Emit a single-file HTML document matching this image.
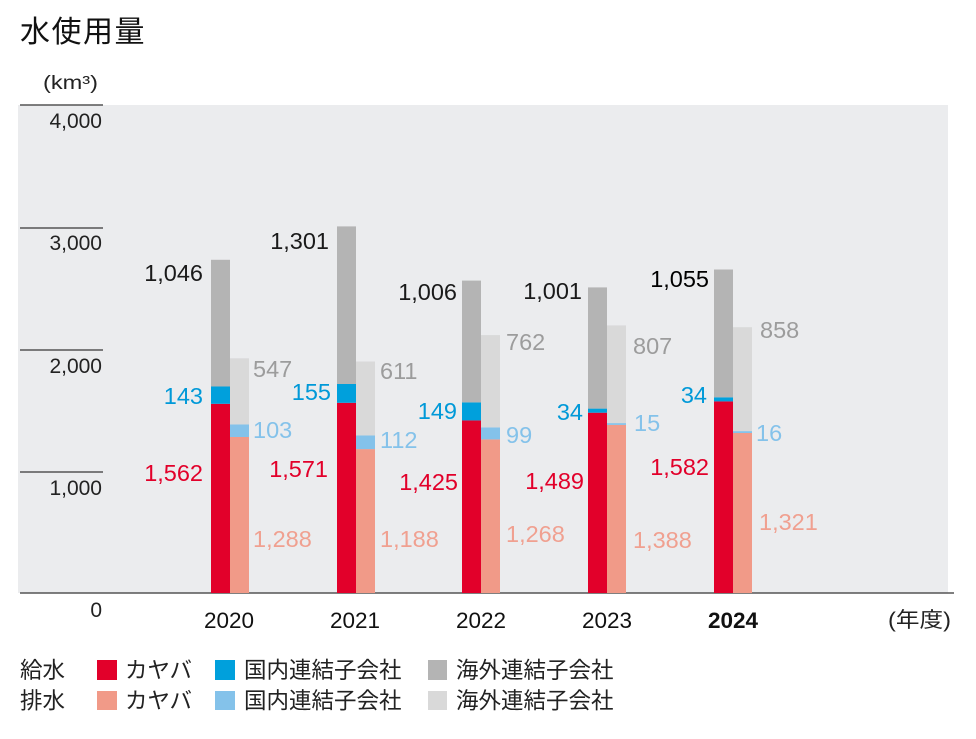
<!DOCTYPE html>
<html><head><meta charset="utf-8">
<style>
html,body{margin:0;padding:0;background:#fff;}
svg{display:block;}
text{font-family:"Liberation Sans","Noto Sans CJK JP",sans-serif;}
.v{font-size:23.5px;}
.ax{font-size:21px;fill:#222;}
.yr{font-size:22.5px;fill:#111;text-anchor:middle;}
.lg{font-size:22.5px;fill:#222;}
</style></head>
<body>
<svg width="976" height="739" viewBox="0 0 976 739" xmlns="http://www.w3.org/2000/svg">
<rect x="0" y="0" width="976" height="739" fill="#fff"/>
<!-- title -->
<text x="20" y="42" style="font-size:30px;letter-spacing:1.5px" fill="#111">水使用量</text>
<text x="43" y="89" style="font-size:19.5px" fill="#222" textLength="55" lengthAdjust="spacingAndGlyphs">(km³)</text>
<!-- plot bg -->
<rect x="18" y="105" width="930" height="488" fill="#ebecee"/>
<!-- ticks -->
<g stroke="#555" stroke-width="1.5">
<line x1="20" y1="105" x2="103" y2="105"/>
<line x1="20" y1="228" x2="103" y2="228"/>
<line x1="20" y1="350" x2="103" y2="350"/>
<line x1="20" y1="472" x2="103" y2="472"/>
<line x1="20" y1="593" x2="954" y2="593"/>
</g>
<g class="ax" text-anchor="end">
<text x="102" y="128">4,000</text>
<text x="102" y="250">3,000</text>
<text x="102" y="373">2,000</text>
<text x="102" y="495">1,000</text>
<text x="102" y="617">0</text>
</g>
<!-- bars -->
<g>
<!-- 2020 -->
<rect x="211" y="403.8" width="19" height="189.2" fill="#e2002a"/>
<rect x="211" y="386.5" width="19" height="17.3" fill="#00a0dc"/>
<rect x="211" y="259.8" width="19" height="126.7" fill="#b4b4b4"/>
<rect x="230" y="437" width="19" height="156" fill="#f19a88"/>
<rect x="230" y="424.5" width="19" height="12.5" fill="#84c2ea"/>
<rect x="230" y="358.3" width="19" height="66.2" fill="#d9d9d9"/>
<!-- 2021 -->
<rect x="337" y="402.8" width="19" height="190.2" fill="#e2002a"/>
<rect x="337" y="384" width="19" height="18.8" fill="#00a0dc"/>
<rect x="337" y="226.4" width="19" height="157.6" fill="#b4b4b4"/>
<rect x="356" y="449.1" width="19" height="143.9" fill="#f19a88"/>
<rect x="356" y="435.5" width="19" height="13.6" fill="#84c2ea"/>
<rect x="356" y="361.5" width="19" height="74" fill="#d9d9d9"/>
<!-- 2022 -->
<rect x="462" y="420.4" width="19" height="172.6" fill="#e2002a"/>
<rect x="462" y="402.4" width="19" height="18" fill="#00a0dc"/>
<rect x="462" y="280.6" width="19" height="121.8" fill="#b4b4b4"/>
<rect x="481" y="439.4" width="19" height="153.6" fill="#f19a88"/>
<rect x="481" y="427.4" width="19" height="12" fill="#84c2ea"/>
<rect x="481" y="335.1" width="19" height="92.3" fill="#d9d9d9"/>
<!-- 2023 -->
<rect x="588" y="412.7" width="19" height="180.3" fill="#e2002a"/>
<rect x="588" y="408.6" width="19" height="4.1" fill="#00a0dc"/>
<rect x="588" y="287.4" width="19" height="121.2" fill="#b4b4b4"/>
<rect x="607" y="424.9" width="19" height="168.1" fill="#f19a88"/>
<rect x="607" y="423.1" width="19" height="1.8" fill="#84c2ea"/>
<rect x="607" y="325.4" width="19" height="97.7" fill="#d9d9d9"/>
<!-- 2024 -->
<rect x="714" y="401.4" width="19" height="191.6" fill="#e2002a"/>
<rect x="714" y="397.3" width="19" height="4.1" fill="#00a0dc"/>
<rect x="714" y="269.5" width="19" height="127.8" fill="#b4b4b4"/>
<rect x="733" y="433" width="19" height="160" fill="#f19a88"/>
<rect x="733" y="431.1" width="19" height="1.9" fill="#84c2ea"/>
<rect x="733" y="327.2" width="19" height="103.9" fill="#d9d9d9"/>
</g>
<!-- supply labels (right aligned) -->
<g class="v" text-anchor="end">
<text x="203" y="281" fill="#1a1a1a">1,046</text>
<text x="203" y="404" fill="#0099d8">143</text>
<text x="203" y="481" fill="#e2002a">1,562</text>

<text x="329" y="249" fill="#1a1a1a">1,301</text>
<text x="331" y="400" fill="#0099d8">155</text>
<text x="328" y="477" fill="#e2002a">1,571</text>

<text x="457" y="300" fill="#1a1a1a">1,006</text>
<text x="457" y="419" fill="#0099d8">149</text>
<text x="458" y="490" fill="#e2002a">1,425</text>

<text x="582" y="299" fill="#1a1a1a">1,001</text>
<text x="583" y="420" fill="#0099d8">34</text>
<text x="584" y="489" fill="#e2002a">1,489</text>

<text x="709" y="287" fill="#000">1,055</text>
<text x="707" y="403" fill="#0099d8">34</text>
<text x="709" y="475" fill="#e2002a">1,582</text>
</g>
<!-- discharge labels (left aligned) -->
<g class="v" text-anchor="start">
<text x="253" y="377" fill="#9c9c9c">547</text>
<text x="253" y="438" fill="#84c2ea">103</text>
<text x="253" y="547" fill="#f0a090">1,288</text>

<text x="380" y="379" fill="#9c9c9c">611</text>
<text x="380" y="448" fill="#84c2ea">112</text>
<text x="380" y="547" fill="#f0a090">1,188</text>

<text x="506" y="350" fill="#9c9c9c">762</text>
<text x="506" y="443" fill="#84c2ea">99</text>
<text x="506" y="542" fill="#f0a090">1,268</text>

<text x="633" y="354" fill="#9c9c9c">807</text>
<text x="634" y="431" fill="#84c2ea">15</text>
<text x="633" y="548" fill="#f0a090">1,388</text>

<text x="760" y="338" fill="#9c9c9c">858</text>
<text x="756" y="441" fill="#84c2ea">16</text>
<text x="759" y="530" fill="#f0a090">1,321</text>
</g>
<!-- year labels -->
<text class="yr" x="229" y="628">2020</text>
<text class="yr" x="355" y="628">2021</text>
<text class="yr" x="481" y="628">2022</text>
<text class="yr" x="607" y="628">2023</text>
<text class="yr" x="733" y="628" font-weight="bold">2024</text>
<text x="888" y="627" style="font-size:21px" fill="#222" textLength="63" lengthAdjust="spacingAndGlyphs">(年度)</text>
<!-- legend -->
<g class="lg">
<text x="20" y="678">給水</text>
<text x="20" y="708.5">排水</text>
<rect x="97" y="660" width="20" height="20" fill="#e2002a"/>
<rect x="97" y="691" width="20" height="19" fill="#f19a88"/>
<text x="125" y="678">カヤバ</text>
<text x="125" y="708.5">カヤバ</text>
<rect x="215" y="660" width="20" height="20" fill="#00a0dc"/>
<rect x="215" y="691" width="20" height="19" fill="#84c2ea"/>
<text x="244" y="678">国内連結子会社</text>
<text x="244" y="708.5">国内連結子会社</text>
<rect x="428" y="660" width="19" height="20" fill="#b4b4b4"/>
<rect x="428" y="691" width="19" height="19" fill="#d9d9d9"/>
<text x="456" y="678">海外連結子会社</text>
<text x="456" y="708.5">海外連結子会社</text>
</g>
</svg>
</body></html>
